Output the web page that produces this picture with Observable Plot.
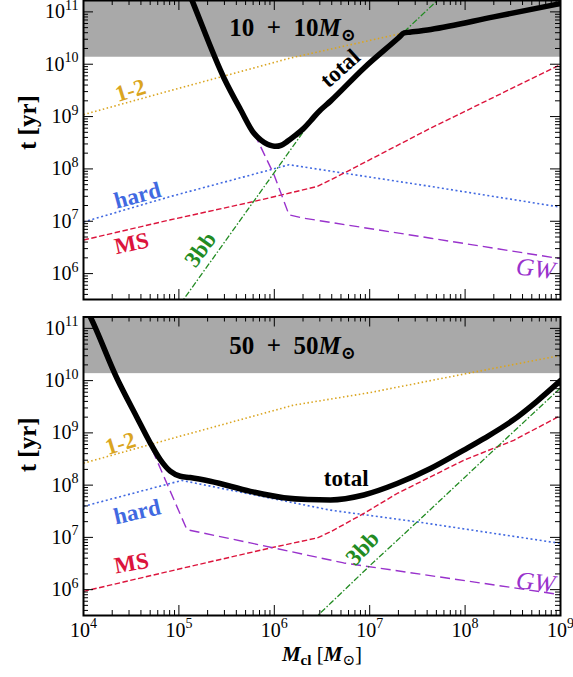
<!DOCTYPE html>
<html><head><meta charset="utf-8">
<script src="https://cdn.jsdelivr.net/npm/d3@7"></script>
<script src="https://cdn.jsdelivr.net/npm/@observablehq/plot@0.6"></script>
<style>
body{margin:0;background:#fff;}
#wrap{position:relative;width:573px;height:677px;overflow:hidden;}
#wrap svg{position:absolute;left:0;}
</style></head><body><div id="wrap"></div>
<script>
// ---------- data (log10 of cluster mass, log10 of time in yr) ----------
const massTicks = [1e4, 1e5, 1e6, 1e7, 1e8, 1e9];
const timeTicks = [1e6, 1e7, 1e8, 1e9, 1e10, 1e11];
const hubbleTime = 1.36e10;
const xDomain = [1e4, 1e9];
const yDomain = [3.2e5, 1.65e11];

// panel 1: 10 + 10 Msun
const top_total = [[5.12,11.30],[5.141,11.206],[5.472,9.738],[5.65,9.12],[5.787,8.68],[5.86,8.55],[5.928,8.47],[5.98,8.44],[6.015,8.431],[6.07,8.45],[6.137,8.526],[6.22,8.64],[6.312,8.781],[6.382,8.92],[6.452,9.068],[6.592,9.30],[6.941,9.929],[7.30,10.50],[7.361,10.599],[7.42,10.612],[7.641,10.664],[8.3,10.904],[9.0,11.16]];
const top_12 = [[4.0,9.037],[4.913,9.497],[6.172,10.12],[7.361,10.60],[7.641,10.664],[8.3,10.904],[9.0,11.16]];
const top_hard = [[4.0,6.986],[4.913,7.474],[5.962,7.985],[6.154,8.08],[7.641,7.665],[9.0,7.27]];
const top_MS = [[4.0,6.641],[4.913,7.028],[5.787,7.378],[6.452,7.665],[6.731,7.92],[7.641,8.781],[9.0,9.994]];
const top_GW = [[5.79,8.68],[5.997,7.889],[6.154,7.123],[6.312,7.058],[7.641,6.676],[9.0,6.284]];
const top_3bb = [[5.0,5.38],[5.472,6.585],[5.805,7.434],[5.997,7.924],[6.382,8.906],[6.45,9.08],[7.361,10.62],[7.75,11.29]];

// panel 2: 50 + 50 Msun
const bot_total = [[4.05,11.30],[4.07,11.227],[4.349,10.05],[4.559,9.30],[4.699,8.81],[4.804,8.49],[4.909,8.266],[5.014,8.17],[5.118,8.145],[5.328,8.075],[5.749,7.881],[6.099,7.76],[6.35,7.725],[6.589,7.717],[6.938,7.812],[7.288,8.03],[7.637,8.317],[7.986,8.67],[8.196,8.89],[8.5,9.24],[8.75,9.60],[9.0,10.0]];
const bot_12 = [[4.0,8.42],[5.0,8.93],[6.2,9.53],[7.0,9.77],[8.0,10.13],[9.0,10.48]];
const bot_hard = [[4.0,7.594],[5.03,8.09],[6.589,7.521],[7.498,7.297],[9.0,6.885]];
const bot_MS = [[4.0,5.967],[5.049,6.415],[5.959,6.798],[6.45,6.99],[6.589,7.106],[6.938,7.458],[7.288,7.84],[7.986,8.476],[8.51,8.858],[9.0,9.33]];
const bot_GW = [[4.72,8.68],[5.084,7.148],[5.749,6.894],[6.728,6.511],[9.0,5.904]];
const bot_3bb = [[6.4,5.41],[6.589,5.738],[7.008,6.47],[7.498,7.297],[8.336,8.73],[9.0,9.86]];

// label anchors (log10 mass, log10 time)
const top_labelNames = ["1-2","hard","MS","3bb","total","GW"];
const top_labelAt = [[4.493,9.498],[4.566,7.492],[4.503,6.575],[5.226,6.461],[6.69,9.92],[8.738,6.092]];
const bot_labelNames = ["1-2","hard","MS","total","3bb","GW"];
const bot_labelAt = [[4.388,8.795],[4.563,7.488],[4.503,6.503],[6.754,8.126],[6.925,6.795],[8.738,6.140]];
const titles = ["10\u2002+\u200210{bi:M}{sub:⊙}", "50\u2002+\u200250{bi:M}{sub:⊙}"];
const titleAt = [[6.191,10.70],[6.191,10.67]];
const yLabel = "t [yr]";
const xLabel = "{bi:M}{subb:cl} [{bi:M}{sub:⊙}]";

// ---------- styles ----------
const FONT = "'Liberation Serif', 'DejaVu Serif', serif";
const W = 573, ML = 83, MR = 13, plotW = W - ML - MR;
const sty = {
  total: {stroke: "black", strokeWidth: 5.5, dash: null},
  "1-2": {stroke: "#DAA520", strokeWidth: 1.6, dash: "1.5,2.5"},
  hard: {stroke: "#4169E1", strokeWidth: 1.6, dash: "2,2.6"},
  MS: {stroke: "#DC143C", strokeWidth: 1.4, dash: "5.5,2.5"},
  GW: {stroke: "#9932CC", strokeWidth: 1.4, dash: "10,5"},
  "3bb": {stroke: "#228B22", strokeWidth: 1.3, dash: "6,2,1.5,2"}
};
const labelRot = [
  {"1-2": -17, hard: -15, MS: -12, "3bb": -54, total: -42, GW: 7},
  {"1-2": -17, hard: -13, MS: -10, "3bb": -47, total: 0, GW: 7}
];

const pts = arr => arr.map(([m, t]) => ({M: 10 ** m, t: 10 ** t}));

function rich(svg) {
  d3.select(svg).selectAll("text").each(function () {
    const s = this.textContent;
    if (!s.includes("{")) return;
    const fs = parseFloat(getComputedStyle(this).fontSize) || 20;
    const parts = s.split(/(\{[a-z]+:[^}]*\})/).filter(p => p);
    this.textContent = "";
    let shift = 0;
    for (const p of parts) {
      const m = p.match(/^\{([a-z]+):([^}]*)\}$/);
      const ts = d3.select(this).append("tspan");
      let target = 0;
      if (m) {
        const k = m[1];
        ts.text(m[2]);
        if (k === "sup") { target = -0.42 * fs; ts.attr("font-size", 0.7 * fs); }
        if (k === "sub" || k === "subb") { target = 0.22 * fs; ts.attr("font-size", 0.72 * fs); }
        if (k === "subb") ts.attr("font-weight", "bold");
        if (k === "i" || k === "bi") ts.attr("font-style", "italic");
        if (k === "bi") ts.attr("font-weight", "bold");
      } else ts.text(p);
      if (target !== shift) ts.attr("dy", target - shift);
      shift = target;
    }
  });
}

function panel(p) {
  const plotH = p.height - p.marginTop - p.marginBottom;
  const yMinor = [], xMinor = [];
  for (let e = 5; e <= 11; e++) for (let k = 2; k <= 9; k++) { const v = k * 10 ** e; if (v > yDomain[0] && v < yDomain[1]) yMinor.push(v); }
  for (let e = 4; e <= 8; e++) for (let k = 2; k <= 9; k++) xMinor.push(k * 10 ** e);
  const series = [["1-2", p.s12], ["hard", p.hard], ["MS", p.MS], ["GW", p.GW], ["3bb", p.s3bb], ["total", p.total]];
  const labels = p.labelNames.map((n, i) => ({n, M: 10 ** p.labelAt[i][0], t: 10 ** p.labelAt[i][1]}));
  const marks = [
    Plot.rect([{x1: xDomain[0], x2: xDomain[1], y1: hubbleTime, y2: yDomain[1]}], {x1: "x1", x2: "x2", y1: "y1", y2: "y2", fill: "#a9a9a9"}),
    ...series.map(([n, d]) => Plot.line(pts(d), {x: "M", y: "t", stroke: sty[n].stroke, strokeWidth: sty[n].strokeWidth, strokeDasharray: sty[n].dash, curve: n === "total" ? "monotone-x" : "linear", clip: true, strokeLinecap: n === "total" ? "round" : "butt", strokeLinejoin: "round"})),
    Plot.tickY(timeTicks, {y: d => d, stroke: "black", insetRight: plotW - 10}),
    Plot.tickY(timeTicks, {y: d => d, stroke: "black", insetLeft: plotW - 10}),
    Plot.tickY(yMinor, {y: d => d, stroke: "black", insetRight: plotW - 5}),
    Plot.tickY(yMinor, {y: d => d, stroke: "black", insetLeft: plotW - 5}),
    Plot.tickX(massTicks, {x: d => d, stroke: "black", insetTop: plotH - 10}),
    Plot.tickX(massTicks, {x: d => d, stroke: "black", insetBottom: plotH - 10}),
    Plot.tickX(xMinor, {x: d => d, stroke: "black", insetTop: plotH - 5}),
    Plot.tickX(xMinor, {x: d => d, stroke: "black", insetBottom: plotH - 5}),
    Plot.frame({stroke: "black", strokeWidth: 2}),
    Plot.axisY(timeTicks, {tickSize: 0, tickPadding: 5, fontSize: 20, label: null, tickFormat: d => `10{sup:${Math.round(Math.log10(d))}}`}),
    Plot.text([yLabel], {frameAnchor: "left", dx: -56, dy: p.yLabelDy, rotate: -90, text: d => d, fontSize: 25, fontWeight: "bold"}),
    Plot.text(labels.filter(d => d.n !== "GW"), {x: "M", y: "t", text: "n", rotate: d => labelRot[p.idx][d.n], fill: d => d.n === "total" ? "black" : sty[d.n].stroke, fontSize: 23, fontWeight: "bold"}),
    Plot.text(labels.filter(d => d.n === "GW"), {x: "M", y: "t", text: "n", rotate: d => labelRot[p.idx][d.n], fill: sty.GW.stroke, fontSize: 25, fontStyle: "italic"}),
    Plot.text([p.title], {x: 10 ** p.titleAt[0], y: 10 ** p.titleAt[1], text: d => d, fontSize: 25, fontWeight: "bold"})
  ];
  if (p.showX) {
    marks.push(Plot.axisX(massTicks, {tickSize: 0, tickPadding: 7, fontSize: 20, label: null, tickFormat: d => `10{sup:${Math.round(Math.log10(d))}}`}));
    marks.push(Plot.text([xLabel], {frameAnchor: "bottom", dy: 45, text: d => d, fontSize: 21}));
  }
  const svg = Plot.plot({
    width: W, height: p.height,
    marginLeft: ML, marginRight: MR, marginTop: p.marginTop, marginBottom: p.marginBottom,
    style: {fontFamily: FONT, background: "transparent", overflow: "visible"},
    x: {type: "log", domain: xDomain, axis: null},
    y: {type: "log", domain: yDomain, axis: null},
    marks
  });
  svg.style.top = p.top + "px";
  document.getElementById("wrap").appendChild(svg);
  rich(svg);
}

panel({idx: 0, top: 0, height: 305, marginTop: 0, marginBottom: 6, total: top_total, s12: top_12, hard: top_hard, MS: top_MS, GW: top_GW, s3bb: top_3bb,
  labelNames: top_labelNames, labelAt: top_labelAt, title: titles[0], titleAt: titleAt[0], showX: false, yLabelDy: 0});
panel({idx: 1, top: 305, height: 372, marginTop: 11.5, marginBottom: 62, total: bot_total, s12: bot_12, hard: bot_hard, MS: bot_MS, GW: bot_GW, s3bb: bot_3bb,
  labelNames: bot_labelNames, labelAt: bot_labelAt, title: titles[1], titleAt: titleAt[1], showX: true, yLabelDy: 6});
</script></body></html>
